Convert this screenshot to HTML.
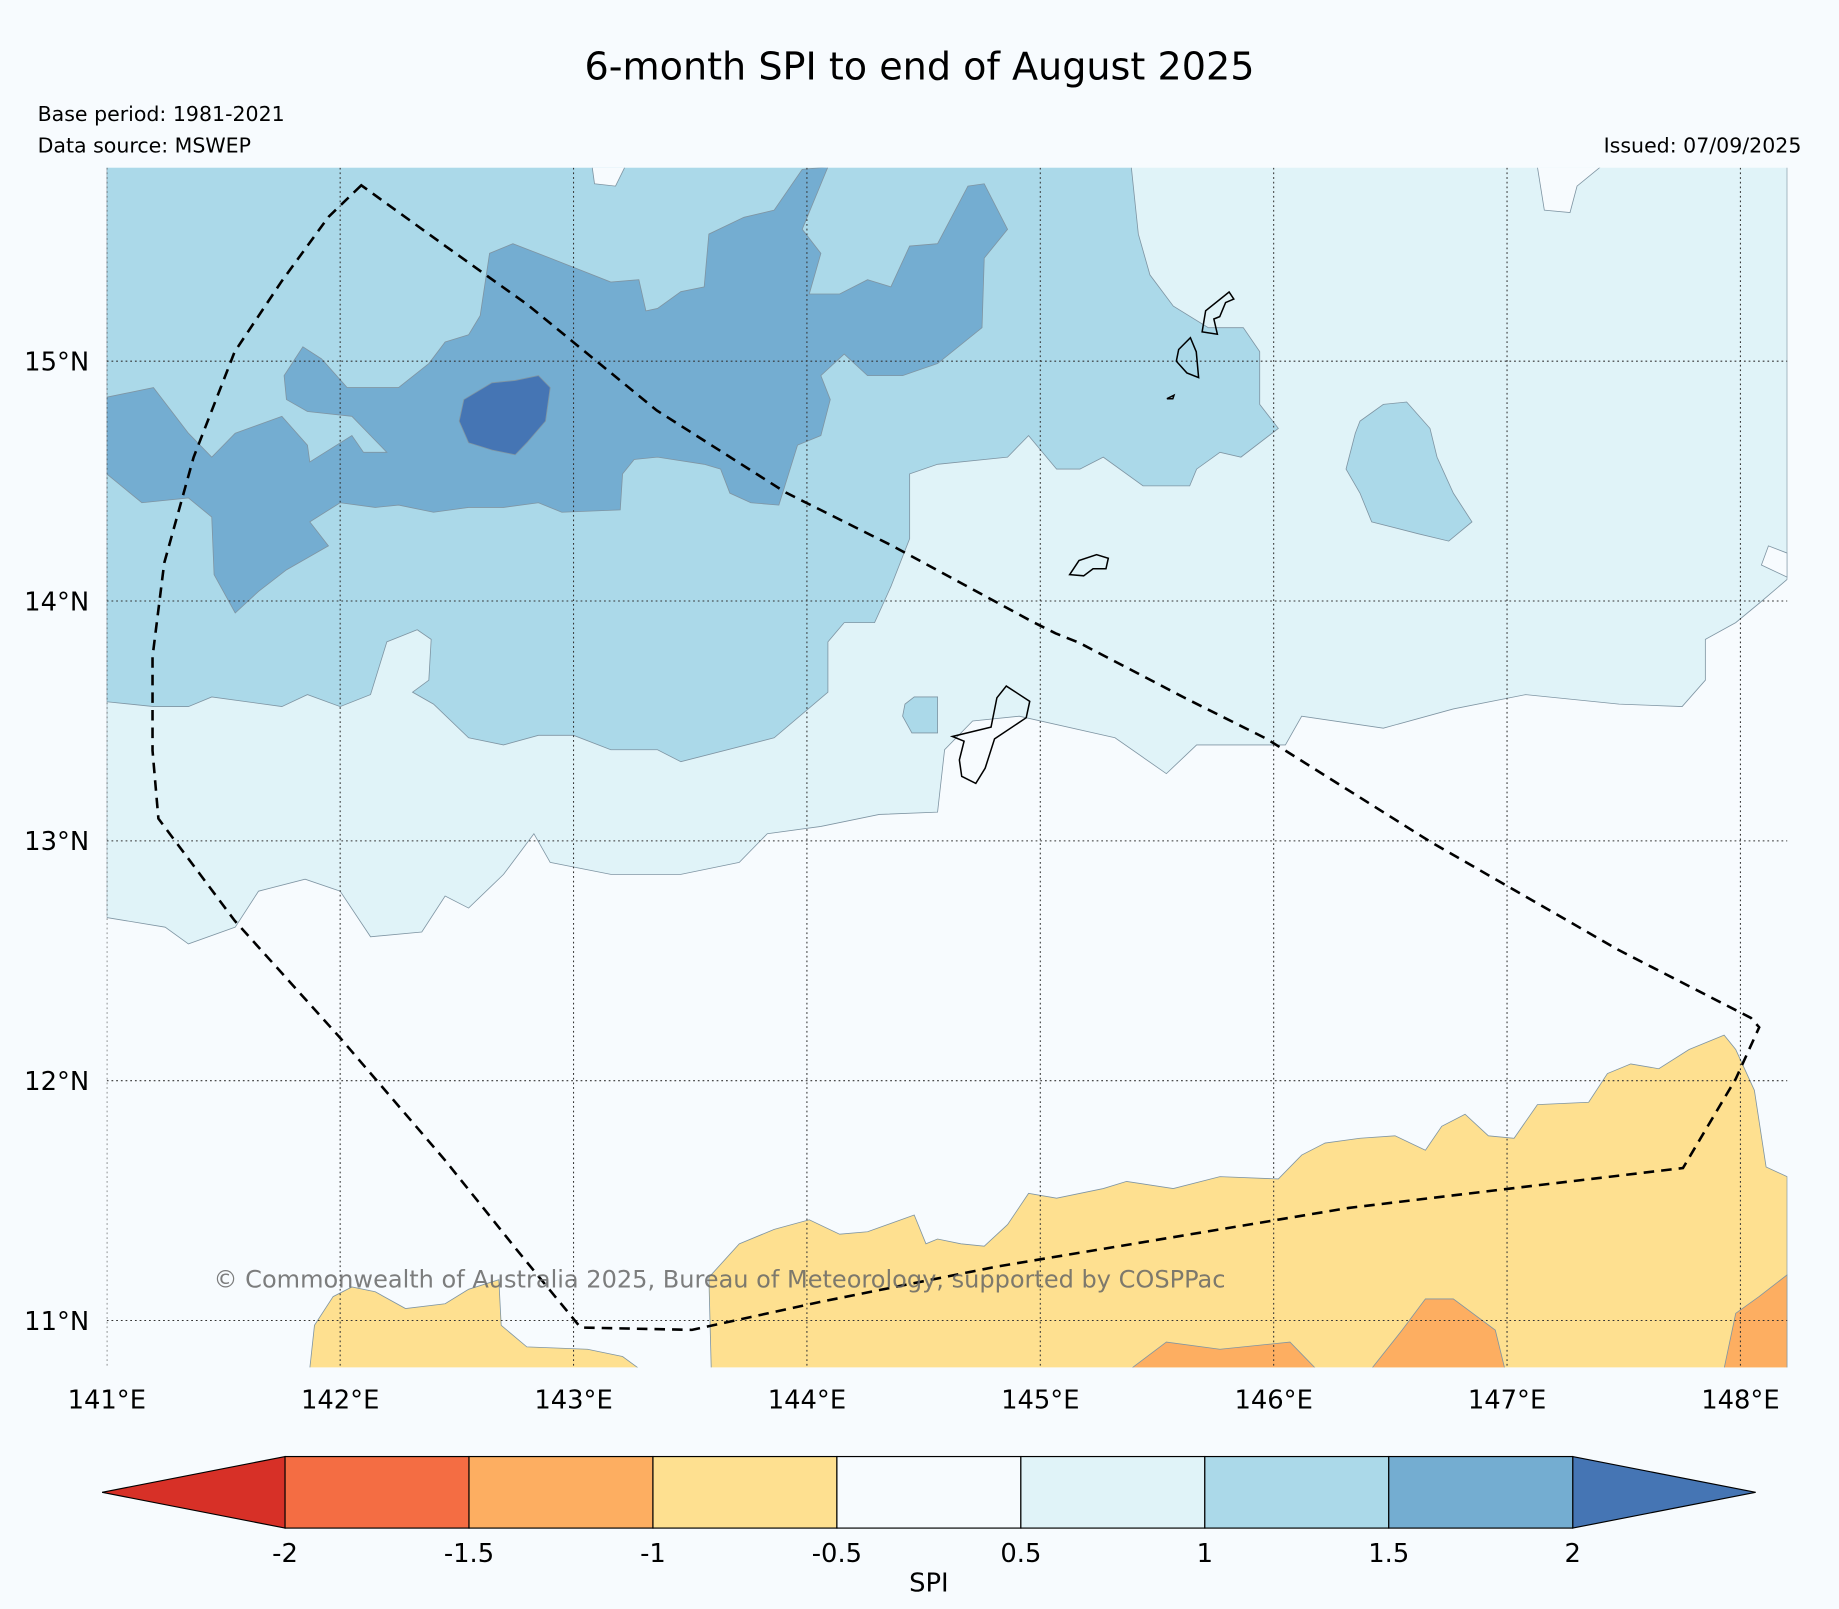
<!DOCTYPE html>
<html><head><meta charset="utf-8"><style>
html,body{margin:0;padding:0;background:#f7fbfe;}
svg{display:block;font-family:"DejaVu Sans","Liberation Sans",sans-serif;}
</style></head><body>
<svg id="chart" width="1839" height="1609" viewBox="0 0 1568 1372">
<rect x="0" y="0" width="1568" height="1372" fill="#f7fbfe"/>
<text x="784" y="68" font-size="32.5" text-anchor="middle" fill="#000">6-month SPI to end of August 2025</text>
<text x="32" y="103" font-size="17.5">Base period: 1981-2021</text>
<text x="32" y="130" font-size="17.5">Data source: MSWEP</text>
<text x="1536" y="130" font-size="17.5" text-anchor="end">Issued: 07/09/2025</text>
<defs><clipPath id="mapclip"><rect x="91" y="143" width="1433" height="1023"/></clipPath></defs>
<g id="map" clip-path="url(#mapclip)">
<rect x="91" y="143" width="1433" height="1023" fill="#f7fbfe"/>
<g id="regions"></g>
<g id="grid"></g>
<path d="M812,628 L845,620 L850,595 L858,585 L878,598 L875,612 L848,630 L840,655 L832,668 L820,662 L818,648 L822,632 Z M912,490 L920,478 L935,473 L945,476 L943,485 L932,485 L924,491 Z M1005,298 L1015,288 L1020,300 L1022,322 L1012,318 L1003,308 Z M1025,283 L1028,265 L1048,249 L1052,255 L1045,258 L1040,270 L1035,272 L1038,285 Z M995,340 L1001,337 L1000,340 Z" fill="none" stroke="#000" stroke-width="1.3"/>
<path d="M308,158 L280,185 L240,240 L200,300 L165,390 L140,480 L130,560 L130,640 L135,698 L200,785 L290,885 L380,990 L440,1065 L495,1132 L590,1134 L700,1110 L850,1080 L1000,1055 L1150,1030 L1300,1012 L1435,996 L1480,920 L1500,876 L1493,868 L1380,810 L1220,718 L1080,630 L1010,595 L920,548 L900,540 L880,530 L760,465 L670,420 L560,350 L450,260 L380,210 Z" fill="none" stroke="#000" stroke-width="2.2" stroke-dasharray="9,6"/>
<text x="182" y="1098" font-size="20.5" fill="#666" fill-opacity="0.85">© Commonwealth of Australia 2025, Bureau of Meteorology, supported by COSPPac</text>
</g>
<g id="axes"></g>
<g id="colorbar"></g>
<text x="792" y="1357" font-size="22" text-anchor="middle">SPI</text>
</svg>
<script>
const lonTicks=[141,142,143,144,145,146,147,148];
const latTicks=[15,14,13,12,11];
const cbBounds=[-2,-1.5,-1,-0.5,0.5,1,1.5,2];
const cbColors=["#f46d43","#fdae61","#fee090","#f7fbfe","#e0f3f8","#abd9e9","#74add1"];
const regionColors=["#e0f3f8","#abd9e9","#abd9e9","#abd9e9","#74add1","#4575b4","#fee090","#fee090","#fdae61","#fdae61","#fdae61","#f7fbfe","#f7fbfe","#f7fbfe"];
const regionNames=["spi-0.5-1-region","spi-1-1.5-region","spi-1-1.5-east-patch","spi-1-1.5-small-patch","spi-1.5-2-region","spi-above-2-region","spi-neg-0.5-1-east","spi-neg-0.5-1-west","spi-neg-1-1.5-patch-a","spi-neg-1-1.5-patch-b","spi-neg-1-1.5-patch-c","neutral-patch-a","neutral-patch-b","neutral-patch-c"];
const r0=[[141,12.68],[141.25,12.64],[141.35,12.57],[141.55,12.64],[141.65,12.79],[141.85,12.84],[142,12.79],[142.13,12.6],[142.35,12.62],[142.45,12.77],[142.55,12.72],[142.7,12.86],[142.83,13.03],[142.9,12.91],[143.16,12.86],[143.46,12.86],[143.71,12.91],[143.83,13.03],[144.06,13.06],[144.31,13.11],[144.56,13.12],[144.59,13.38],[144.71,13.5],[144.91,13.52],[145.32,13.43],[145.54,13.28],[145.67,13.4],[146.05,13.4],[146.12,13.52],[146.47,13.47],[146.77,13.55],[147.08,13.61],[147.48,13.57],[147.75,13.56],[147.85,13.67],[147.85,13.84],[147.98,13.91],[148.08,13.99],[148.2,14.09],[148.2,15.81],[141,15.81]];
const r1=[[141,13.58],[141.2,13.56],[141.35,13.56],[141.45,13.6],[141.75,13.56],[141.86,13.61],[142,13.56],[142.13,13.61],[142.2,13.83],[142.33,13.88],[142.39,13.84],[142.38,13.67],[142.31,13.62],[142.4,13.57],[142.55,13.43],[142.7,13.4],[142.85,13.44],[143,13.44],[143.16,13.38],[143.36,13.38],[143.46,13.33],[143.86,13.43],[144.09,13.62],[144.09,13.83],[144.16,13.91],[144.29,13.91],[144.36,14.06],[144.44,14.26],[144.44,14.53],[144.56,14.57],[144.86,14.6],[144.95,14.69],[145.07,14.55],[145.17,14.55],[145.27,14.6],[145.44,14.48],[145.64,14.48],[145.67,14.55],[145.77,14.62],[145.86,14.6],[146.02,14.72],[145.94,14.82],[145.94,15.04],[145.87,15.14],[145.72,15.14],[145.57,15.23],[145.47,15.36],[145.42,15.53],[145.39,15.81],[141,15.81]];
const r2=[[146.37,14.75],[146.47,14.82],[146.57,14.83],[146.67,14.72],[146.7,14.6],[146.77,14.45],[146.85,14.33],[146.75,14.25],[146.62,14.28],[146.42,14.33],[146.37,14.45],[146.31,14.55],[146.35,14.7]];
const r3=[[144.42,13.57],[144.46,13.6],[144.56,13.6],[144.56,13.45],[144.45,13.45],[144.41,13.52]];
const r4=[[141,14.85],[141.2,14.89],[141.35,14.7],[141.45,14.6],[141.55,14.7],[141.75,14.77],[141.86,14.65],[141.87,14.58],[142.05,14.69],[142.1,14.62],[142.2,14.62],[142.15,14.67],[142.05,14.77],[141.86,14.79],[141.77,14.84],[141.76,14.94],[141.84,15.06],[141.92,15.01],[142.03,14.89],[142.25,14.89],[142.38,14.99],[142.45,15.08],[142.55,15.11],[142.6,15.19],[142.64,15.45],[142.74,15.49],[142.9,15.43],[143.16,15.33],[143.28,15.34],[143.31,15.21],[143.36,15.22],[143.46,15.29],[143.56,15.31],[143.58,15.53],[143.73,15.6],[143.86,15.63],[143.98,15.8],[144.09,15.81],[143.98,15.55],[144.06,15.45],[144.01,15.28],[144.14,15.28],[144.26,15.34],[144.36,15.31],[144.44,15.48],[144.56,15.49],[144.69,15.73],[144.76,15.74],[144.86,15.55],[144.76,15.43],[144.75,15.14],[144.56,14.99],[144.41,14.94],[144.26,14.94],[144.16,15.03],[144.06,14.94],[144.1,14.84],[144.06,14.69],[143.96,14.65],[143.88,14.4],[143.76,14.41],[143.67,14.45],[143.63,14.55],[143.56,14.57],[143.36,14.6],[143.26,14.59],[143.21,14.53],[143.2,14.38],[142.95,14.37],[142.85,14.41],[142.7,14.39],[142.55,14.39],[142.4,14.37],[142.25,14.4],[142.15,14.39],[142,14.41],[141.87,14.33],[141.95,14.23],[141.77,14.13],[141.65,14.04],[141.55,13.95],[141.46,14.11],[141.45,14.35],[141.35,14.43],[141.15,14.41],[141,14.53]];
const r5=[[142.53,14.84],[142.65,14.91],[142.75,14.92],[142.85,14.94],[142.9,14.89],[142.88,14.75],[142.8,14.66],[142.75,14.61],[142.65,14.63],[142.55,14.66],[142.51,14.75]];
const r6=[[143.59,10.8],[143.58,11.18],[143.71,11.32],[143.86,11.38],[144.01,11.42],[144.14,11.36],[144.26,11.37],[144.46,11.44],[144.51,11.32],[144.56,11.34],[144.66,11.32],[144.76,11.31],[144.86,11.4],[144.95,11.53],[145.07,11.51],[145.27,11.55],[145.37,11.58],[145.57,11.55],[145.77,11.6],[146.02,11.59],[146.12,11.69],[146.22,11.74],[146.37,11.76],[146.52,11.77],[146.65,11.71],[146.72,11.81],[146.82,11.86],[146.92,11.77],[147.03,11.76],[147.13,11.9],[147.35,11.91],[147.43,12.03],[147.53,12.07],[147.65,12.05],[147.78,12.13],[147.93,12.19],[147.98,12.13],[148.06,11.96],[148.11,11.64],[148.2,11.6],[148.2,10.8]];
const r7=[[141.87,10.8],[141.89,10.98],[141.97,11.1],[142.05,11.14],[142.15,11.12],[142.28,11.05],[142.45,11.07],[142.55,11.13],[142.68,11.17],[142.69,10.98],[142.8,10.89],[143.06,10.88],[143.21,10.85],[143.28,10.8]];
const r8=[[145.39,10.8],[145.54,10.91],[145.77,10.88],[146.07,10.91],[146.18,10.8]];
const r9=[[146.42,10.8],[146.55,10.96],[146.65,11.09],[146.77,11.09],[146.95,10.96],[146.99,10.8]];
const r10=[[147.93,10.8],[147.98,11.03],[148.08,11.1],[148.2,11.19],[148.2,10.8]];
const r11=[[143.08,15.81],[143.09,15.74],[143.18,15.73],[143.22,15.81]];
const r12=[[147.13,15.81],[147.16,15.63],[147.27,15.62],[147.3,15.73],[147.4,15.81]];
const r13=[[148.2,14.2],[148.12,14.23],[148.09,14.15],[148.2,14.1]];
const regions=[r0,r1,r2,r3,r4,r5,r6,r7,r8,r9,r10,r11,r12,r13];

const NS="http://www.w3.org/2000/svg";
function xs(lon){return 91+(lon-141)*199;}
function ys(lat){return 308-(lat-15)*204.5;}
function mk(t,a,p){const e=document.createElementNS(NS,t);for(const k in a)e.setAttribute(k,a[k]);p.appendChild(e);return e;}
const gR=document.getElementById('regions');
regions.forEach((r,i)=>{
  const pts=r.map(p=>xs(p[0]).toFixed(1)+','+ys(p[1]).toFixed(1)).join(' ');
  const el=mk('polygon',{points:pts,fill:regionColors[i],stroke:'#7f95a3','stroke-width':'0.7'},gR);
  
  
});
const gG=document.getElementById('grid'),gA=document.getElementById('axes');
lonTicks.forEach(l=>{
  const ln=mk('line',{x1:xs(l),x2:xs(l),y1:143,y2:1166,stroke:'#333','stroke-width':'0.9','stroke-dasharray':'1.5,2.5'},gG);
  
  
  const t=mk('text',{x:xs(l),y:1201,'font-size':'22','text-anchor':'middle'},gA);
  t.textContent=l+'°E';
  
  
});
latTicks.forEach(l=>{
  const ln=mk('line',{x1:91,x2:1524,y1:ys(l),y2:ys(l),stroke:'#333','stroke-width':'0.9','stroke-dasharray':'1.5,2.5'},gG);
  
  
  const t=mk('text',{x:76,y:ys(l)+8,'font-size':'22','text-anchor':'end'},gA);
  t.textContent=l+'°N';
  
  
});
const gC=document.getElementById('colorbar');
const cx0=243,cx1=1341,cy0=1242,cy1=1303;
function cbx(i){return cx0+(cx1-cx0)*i/(cbBounds.length-1);}
const lt=mk('polygon',{points:`${cx0},${cy0} ${cx0},${cy1} 87,${(cy0+cy1)/2}`,fill:'#d73027',stroke:'#000','stroke-width':'1'},gC);


const rt=mk('polygon',{points:`${cx1},${cy0} ${cx1},${cy1} 1497,${(cy0+cy1)/2}`,fill:'#4575b4',stroke:'#000','stroke-width':'1'},gC);


cbColors.forEach((c,i)=>{
  const r=mk('rect',{x:cbx(i),y:cy0,width:cbx(i+1)-cbx(i),height:cy1-cy0,fill:c,stroke:'#000','stroke-width':'1'},gC);
  
  
});
cbBounds.forEach((b,i)=>{
  const t=mk('text',{x:cbx(i),y:1332,'font-size':'22','text-anchor':'middle'},gC);
  t.textContent=String(b);
  
  
});
</script>
</body></html>
